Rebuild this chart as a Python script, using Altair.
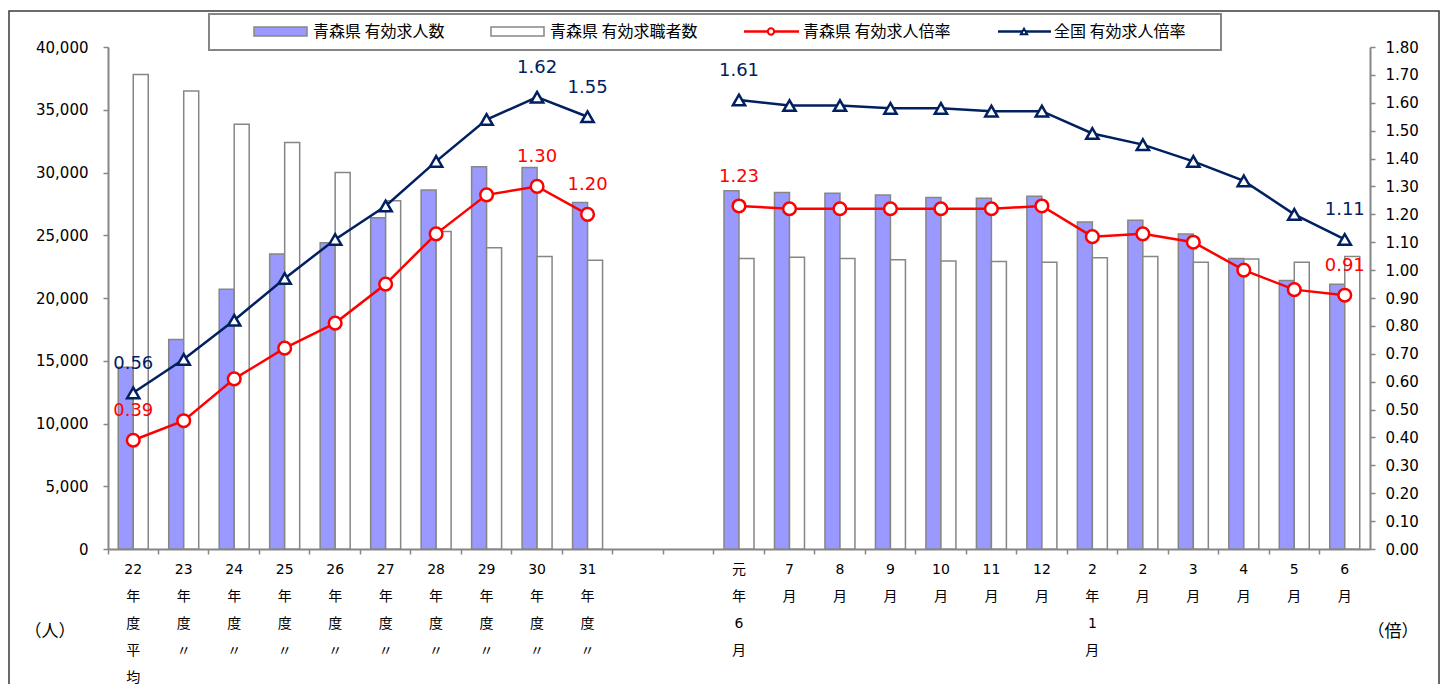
import altair as alt
import pandas as pd

# ---------------- data ----------------
categories = [
    "22|年|度|平|均", "23|年|度|〃", "24|年|度|〃", "25|年|度|〃", "26|年|度|〃",
    "27|年|度|〃", "28|年|度|〃", "29|年|度|〃", "30|年|度|〃", "31|年|度|〃",
    "元|年|6|月", "7|月", "8|月", "9|月", "10|月", "11|月", "12|月",
    "2|年|1|月", "2|月", "3|月", "4|月", "5|月", "6|月",
]
gap_slots = [" ", "  "]
segments = ["年度"] * 10 + ["月次"] * 13

aomori_openings = [14480, 16700, 20700, 23500, 24400, 26400, 28600, 30450, 30400, 27600,
                   28550, 28400, 28350, 28200, 28000, 27950, 28100, 26050, 26200, 25100,
                   23150, 21400, 21100]
aomori_seekers = [37800, 36500, 33850, 32400, 30000, 27750, 25300, 24000, 23300, 23000,
                  23150, 23250, 23150, 23050, 22950, 22900, 22850, 23200, 23300, 22850,
                  23100, 22850, 23300]
aomori_ratio = [0.39, 0.46, 0.61, 0.72, 0.81, 0.95, 1.13, 1.27, 1.30, 1.20,
                1.23, 1.22, 1.22, 1.22, 1.22, 1.22, 1.23, 1.12, 1.13, 1.10,
                1.00, 0.93, 0.91]
national_ratio = [0.56, 0.68, 0.82, 0.97, 1.11, 1.23, 1.39, 1.54, 1.62, 1.55,
                  1.61, 1.59, 1.59, 1.58, 1.58, 1.57, 1.57, 1.49, 1.45, 1.39,
                  1.32, 1.20, 1.11]
labelled = ["22|年|度|平|均", "30|年|度|〃", "31|年|度|〃", "元|年|6|月", "6|月"]

legend_names = ["青森県 有効求人数", "青森県 有効求職者数", "青森県 有効求人倍率", "全国 有効求人倍率"]
unit_left = "（人）"
unit_right = "（倍）"

axis_domain = categories[:10] + gap_slots + categories[10:]

df = pd.DataFrame({
    "cat": categories,
    "seg": segments,
    "openings": aomori_openings,
    "seekers": aomori_seekers,
    "aomori": aomori_ratio,
    "national": national_ratio,
})
df["aomori_lbl"] = [f"{v:.2f}" if c in labelled else "" for c, v in zip(df["cat"], df["aomori"])]
df["national_lbl"] = [f"{v:.2f}" if c in labelled else "" for c, v in zip(df["cat"], df["national"])]

# ---------------- styles ----------------
NUM_FONT = "DejaVu Sans"
JP_FONT = "Noto Sans CJK JP"
GRAY = "#868686"
BLUE_FILL = "#9999FF"
RED = "#FF0000"
NAVY = "#002060"

W, H = 1262, 502

x_enc = alt.X(
    "cat:N",
    sort=axis_domain,
    scale=alt.Scale(domain=axis_domain, paddingInner=0, paddingOuter=0),
    axis=alt.Axis(
        title=None, labelExpr="split(datum.label, '|')", labelAngle=0,
        bandPosition=0, labelOverlap=False,
        tickSize=5, tickWidth=1.5, tickColor=GRAY, domainColor=GRAY, domainWidth=2,
        labelFont=f"{NUM_FONT}, {JP_FONT}", labelFontSize=14, labelColor="black",
        labelLineHeight=27, labelPadding=8, labelBaseline="top", labelAlign="center",
    ),
)

left_axis = alt.Axis(
    title=None, orient="left", values=list(range(0, 40001, 5000)), format=",.0f",
    grid=False, tickSize=5, tickWidth=1.5, tickColor=GRAY, domainColor=GRAY, domainWidth=2,
    labelFont=NUM_FONT, labelFontSize=15, labelColor="black", labelPadding=15,
)
right_axis = alt.Axis(
    title=None, orient="right", values=[i / 10 for i in range(19)], format=".2f",
    grid=False, tickSize=5, tickWidth=1.5, tickColor=GRAY, domainColor=GRAY, domainWidth=2,
    labelFont=NUM_FONT, labelFontSize=15, labelColor="black", labelPadding=10,
)
left_scale = alt.Scale(domain=[0, 40000], nice=False, zero=True)
right_scale = alt.Scale(domain=[0, 1.8], nice=False, zero=True)

base = alt.Chart(df).encode(x=x_enc)

bar_openings = base.mark_bar(width=15, xOffset=-7.5, fill=BLUE_FILL, stroke=GRAY, strokeWidth=1.5).encode(
    y=alt.Y("openings:Q", scale=left_scale, axis=left_axis))
bar_seekers = base.mark_bar(width=15, xOffset=7.5, fill="white", stroke=GRAY, strokeWidth=1.5).encode(
    y=alt.Y("seekers:Q", scale=left_scale, axis=left_axis))
left_group = alt.layer(bar_openings, bar_seekers)

nat_line = base.mark_line(color=NAVY, strokeWidth=2.5).encode(
    y=alt.Y("national:Q", scale=right_scale, axis=right_axis), detail="seg:N")
aom_line = base.mark_line(color=RED, strokeWidth=2.5).encode(
    y=alt.Y("aomori:Q", scale=right_scale, axis=right_axis), detail="seg:N")
nat_pts = base.mark_point(shape="triangle-up", filled=True, fill="white", stroke=NAVY,
                          strokeWidth=2.5, size=150, opacity=1).encode(
    y=alt.Y("national:Q", scale=right_scale, axis=right_axis))
aom_pts = base.mark_point(shape="circle", filled=True, fill="white", stroke=RED,
                          strokeWidth=2.5, size=160, opacity=1).encode(
    y=alt.Y("aomori:Q", scale=right_scale, axis=right_axis))
nat_txt = base.mark_text(dy=-29, font=NUM_FONT, fontSize=18, color=NAVY).encode(
    y=alt.Y("national:Q", scale=right_scale, axis=right_axis), text="national_lbl:N")
aom_txt = base.mark_text(dy=-29, font=NUM_FONT, fontSize=18, color=RED).encode(
    y=alt.Y("aomori:Q", scale=right_scale, axis=right_axis), text="aomori_lbl:N")
right_group = alt.layer(nat_line, aom_line, nat_pts, aom_pts, nat_txt, aom_txt)

# ---------------- decorations (frame, legend, units) ----------------
one = alt.Data(values=[{"k": 1}])
deco = []
deco.append(alt.Chart(one).mark_rect(fill="white", fillOpacity=0, stroke="#3a3a3a", strokeWidth=1.5).encode(
    x=alt.value(-99), x2=alt.value(1331), y=alt.value(-36), y2=alt.value(680)))
deco.append(alt.Chart(one).mark_rect(fill="white", stroke=GRAY, strokeWidth=2).encode(
    x=alt.value(101), x2=alt.value(1113), y=alt.value(-33), y2=alt.value(3)))
deco.append(alt.Chart(one).mark_rect(fill=BLUE_FILL, stroke=GRAY, strokeWidth=1.5).encode(
    x=alt.value(146), x2=alt.value(199), y=alt.value(-20), y2=alt.value(-11)))
deco.append(alt.Chart(one).mark_rect(fill="white", stroke=GRAY, strokeWidth=1.5).encode(
    x=alt.value(383), x2=alt.value(436), y=alt.value(-20), y2=alt.value(-11)))
deco.append(alt.Chart(one).mark_rule(color=RED, strokeWidth=2.5).encode(
    x=alt.value(636), x2=alt.value(691), y=alt.value(-15.5)))
deco.append(alt.Chart(one).mark_point(shape="circle", filled=True, fill="white", stroke=RED,
                                      strokeWidth=2, size=40, opacity=1).encode(
    x=alt.value(663), y=alt.value(-15.5)))
deco.append(alt.Chart(one).mark_rule(color=NAVY, strokeWidth=2.5).encode(
    x=alt.value(890), x2=alt.value(943), y=alt.value(-15.5)))
deco.append(alt.Chart(one).mark_point(shape="triangle-up", filled=True, fill="white", stroke=NAVY,
                                      strokeWidth=2, size=40, opacity=1).encode(
    x=alt.value(916), y=alt.value(-15.5)))
for xpos, name in zip([205, 442, 695, 946], legend_names):
    deco.append(alt.Chart(one).mark_text(align="left", baseline="middle", font=JP_FONT,
                                         fontSize=16, color="black").encode(
        x=alt.value(xpos), y=alt.value(-15.5), text=alt.value(name)))
deco.append(alt.Chart(one).mark_text(align="center", baseline="middle", font=JP_FONT,
                                     fontSize=17, color="black").encode(
    x=alt.value(-58), y=alt.value(585), text=alt.value(unit_left)))
deco.append(alt.Chart(one).mark_text(align="center", baseline="middle", font=JP_FONT,
                                     fontSize=17, color="black").encode(
    x=alt.value(1285), y=alt.value(585), text=alt.value(unit_right)))

chart = alt.layer(left_group, right_group, *deco).resolve_scale(y="independent").properties(
    width=W, height=H,
    autosize=alt.AutoSizeParams(type="none"),
    padding={"left": 100, "top": 39, "right": 72, "bottom": 135},
    background="white",
).configure_view(stroke=None)

chart.save("out.html", embed_options={"renderer": "svg", "actions": False})
